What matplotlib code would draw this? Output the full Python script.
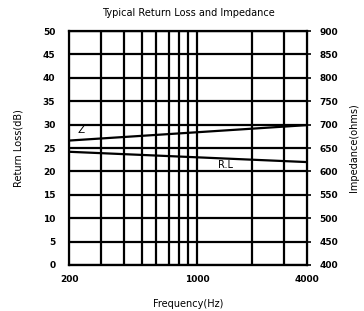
import numpy as np
import matplotlib
matplotlib.use("Agg")
import matplotlib.pyplot as plt

# datos
freq = [200, 4000]
return_loss = [24.2, 22.0]
impedance = [666, 699]
grid_freqs = [300, 400, 500, 600, 700, 800, 900, 1000, 2000, 3000]
x_ticks = [200, 1000, 4000]
rl_ticks = list(range(0, 55, 5))
z_ticks = list(range(400, 950, 50))

fig = plt.figure(figsize=(3.64, 3.11), dpi=100)
ax = fig.add_axes([0.19, 0.148, 0.653, 0.752])
ax.set_xscale("log")
ax.set_xlim(200, 4000)
ax.set_ylim(0, 50)

for f in grid_freqs:
    ax.axvline(f, color="black", lw=1.6)
for v in rl_ticks:
    ax.axhline(v, color="black", lw=1.6)

ax.plot(freq, return_loss, color="black", lw=1.6)
ax.text(1306, 20.8, "R.L", fontsize=7)

ax.set_xticks(x_ticks)
ax.set_xticklabels([str(t) for t in x_ticks], fontsize=6.5, fontweight="bold")
ax.xaxis.set_minor_locator(matplotlib.ticker.NullLocator())
ax.set_yticks(rl_ticks)
ax.set_yticklabels([str(t) for t in rl_ticks], fontsize=6.5, fontweight="bold")
ax.tick_params(axis="x", length=0, pad=7)
ax.tick_params(axis="y", length=0, pad=10)
for s in ax.spines.values():
    s.set_linewidth(1.6)

ax2 = ax.twinx()
ax2.set_ylim(400, 900)
ax2.plot(freq, impedance, color="black", lw=1.6)
ax2.text(222, 682, "Z", fontsize=7.5)
ax2.set_yticks(z_ticks)
ax2.set_yticklabels([str(t) for t in z_ticks], fontsize=6.5, fontweight="bold")
ax2.tick_params(axis="y", length=3, width=1.2, pad=6)

ax.set_title("Typical Return Loss and Impedance", fontsize=7, pad=11)
ax.set_xlabel("Frequency(Hz)", fontsize=7, labelpad=11)
ax.set_ylabel("Return Loss(dB)", fontsize=7, labelpad=14)
ax2.set_ylabel("Impedance(ohms)", fontsize=7, labelpad=8)

plt.savefig("out.png", dpi=100)
plt.close()
